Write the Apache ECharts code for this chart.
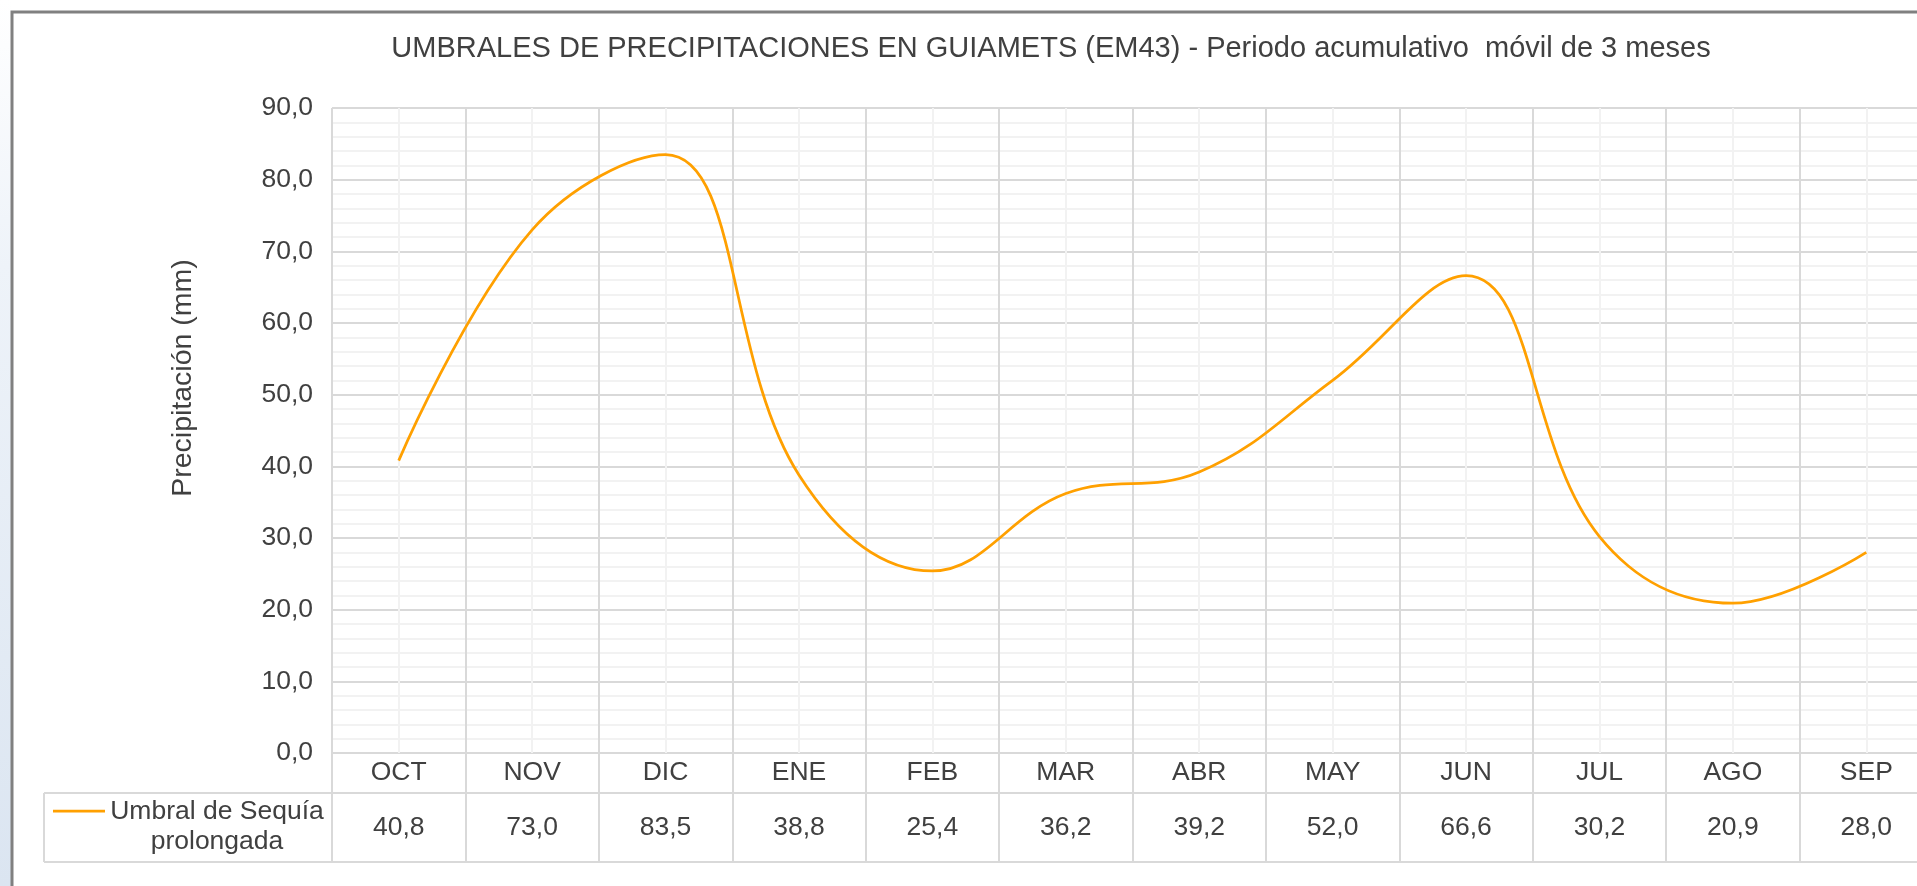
<!DOCTYPE html>
<html>
<head>
<meta charset="utf-8">
<script src="https://cdn.jsdelivr.net/npm/echarts@6/dist/echarts.min.js"></script>
<style>
  html, body { margin: 0; padding: 0; background: #fff; overflow: hidden; }
  /* the plot runs past the right edge of the picture, like the original screenshot */
  #chart { width: 2000px; height: 886px; }
</style>
</head>
<body>
<div id="chart"></div>
<script>
// months (hydrological year, Oct -> Sep)
var months = ['OCT', 'NOV', 'DIC', 'ENE', 'FEB', 'MAR', 'ABR', 'MAY', 'JUN', 'JUL', 'AGO', 'SEP']
// Umbral de Sequía prolongada (mm)
var umbral = [40.8, 73.0, 83.5, 38.8, 25.4, 36.2, 39.2, 52.0, 66.6, 30.2, 20.9, 28.0]
var seriesName = 'Umbral de Sequía prolongada'
var titleText = 'UMBRALES DE PRECIPITACIONES EN GUIAMETS (EM43) - Periodo acumulativo  móvil de 3 meses'
var yName = 'Precipitación (mm)'

var FONT = '"Liberation Sans", Arial, sans-serif'
var TXT = '#404040'
var ORANGE = '#FFA000'
var GRID_MAJOR = '#d9d9d9'
var GRID_MINOR = '#f2f2f2'
var LABEL_SIZE = 26.5

function comma(v) {
  return v.toFixed(1).replace('.', ',')
}

var chart = echarts.init(document.getElementById('chart'))

var option = {
  backgroundColor: '#fff',
  animation: false,
  textStyle: { fontFamily: FONT, color: TXT },
  title: {
    text: titleText,
    left: 1051,
    top: 34,
    padding: 0,
    textAlign: 'center',
    textStyle: { fontFamily: FONT, fontSize: 29, fontWeight: 'normal', color: TXT }
  },
  grid: [
    { left: 332, top: 108, width: 1601, height: 645 },
    // data table under the plot (month row + value row)
    { left: 332, top: 753, width: 1601, height: 109 }
  ],
  xAxis: [
    {
      type: 'category',
      gridIndex: 0,
      data: months,
      boundaryGap: true,
      axisLine: { show: false },
      axisTick: { show: false },
      axisLabel: { margin: 6, fontSize: LABEL_SIZE, color: TXT, fontFamily: FONT },
      splitLine: { show: true, interval: 0, lineStyle: { color: GRID_MAJOR, width: 2 } }
    },
    {
      // only used for the light lines in the middle of each month
      type: 'value',
      gridIndex: 0,
      position: 'top',
      min: 0,
      max: 24,
      interval: 2,
      axisLine: { show: false },
      axisTick: { show: false },
      axisLabel: { show: false },
      splitLine: { show: false },
      minorTick: { show: false, splitNumber: 2 },
      minorSplitLine: { show: true, lineStyle: { color: GRID_MINOR, width: 2 } }
    },
    {
      // value row of the data table
      type: 'category',
      gridIndex: 1,
      position: 'top',
      data: umbral.map(comma),
      boundaryGap: true,
      axisLine: { show: false },
      axisTick: { show: false },
      axisLabel: { inside: true, margin: 61, interval: 0, fontSize: LABEL_SIZE, color: TXT, fontFamily: FONT },
      splitLine: { show: true, interval: 0, lineStyle: { color: GRID_MAJOR, width: 2 } }
    }
  ],
  yAxis: [
    {
      type: 'value',
      gridIndex: 0,
      min: 0,
      max: 90,
      interval: 10,
      axisLine: { show: false },
      axisTick: { show: false },
      axisLabel: { margin: 19, fontSize: LABEL_SIZE, color: TXT, fontFamily: FONT, formatter: comma },
      splitLine: { lineStyle: { color: GRID_MAJOR, width: 2 } },
      minorTick: { show: false, splitNumber: 5 },
      minorSplitLine: { show: true, lineStyle: { color: GRID_MINOR, width: 2 } }
    },
    {
      type: 'value',
      gridIndex: 1,
      min: 0,
      max: 1,
      show: false,
      splitLine: { show: false }
    }
  ],
  series: [
    {
      name: seriesName,
      type: 'line',
      xAxisIndex: 0,
      yAxisIndex: 0,
      data: umbral,
      smooth: 0.4,
      showSymbol: false,
      symbol: 'none',
      lineStyle: { color: ORANGE, width: 2.75 },
      itemStyle: { color: ORANGE },
      z: 5
    }
  ],
  graphic: [
    // bluish strip at the left of the chart frame
    {
      type: 'rect',
      shape: { x: 0, y: 0, width: 11, height: 886 },
      style: {
        fill: new echarts.graphic.LinearGradient(0, 0, 0, 1, [
          { offset: 0, color: '#ffffff' },
          { offset: 0.3, color: '#eef3f9' },
          { offset: 1, color: '#dbe5f1' }
        ])
      },
      silent: true
    },
    // chart frame
    {
      type: 'rect',
      shape: { x: 12, y: 12, width: 2100, height: 1000 },
      style: { fill: null, stroke: '#808080', lineWidth: 3 },
      silent: true
    },
    // table borders
    {
      type: 'line',
      shape: { x1: 44, y1: 793, x2: 2000, y2: 793 },
      style: { stroke: GRID_MAJOR, lineWidth: 2 },
      silent: true
    },
    {
      type: 'line',
      shape: { x1: 44, y1: 862, x2: 2000, y2: 862 },
      style: { stroke: GRID_MAJOR, lineWidth: 2 },
      silent: true
    },
    {
      type: 'line',
      shape: { x1: 44, y1: 793, x2: 44, y2: 862 },
      style: { stroke: GRID_MAJOR, lineWidth: 2 },
      silent: true
    },
    // legend key inside the table
    {
      type: 'line',
      shape: { x1: 53, y1: 811, x2: 105, y2: 811 },
      style: { stroke: ORANGE, lineWidth: 2.75 },
      silent: true
    },
    {
      type: 'text',
      style: {
        x: 217,
        y: 827,
        text: 'Umbral de Sequía\nprolongada',
        align: 'center',
        verticalAlign: 'middle',
        lineHeight: 30,
        fontSize: LABEL_SIZE,
        fontFamily: FONT,
        fill: TXT
      },
      silent: true
    },
    // y axis title
    {
      type: 'text',
      x: 183,
      y: 378,
      rotation: Math.PI / 2,
      style: {
        x: 0,
        y: 0,
        text: yName,
        align: 'center',
        verticalAlign: 'middle',
        fontSize: 28.5,
        fontFamily: FONT,
        fill: TXT
      },
      silent: true
    }
  ]
}

chart.setOption(option)
</script>
</body>
</html>
